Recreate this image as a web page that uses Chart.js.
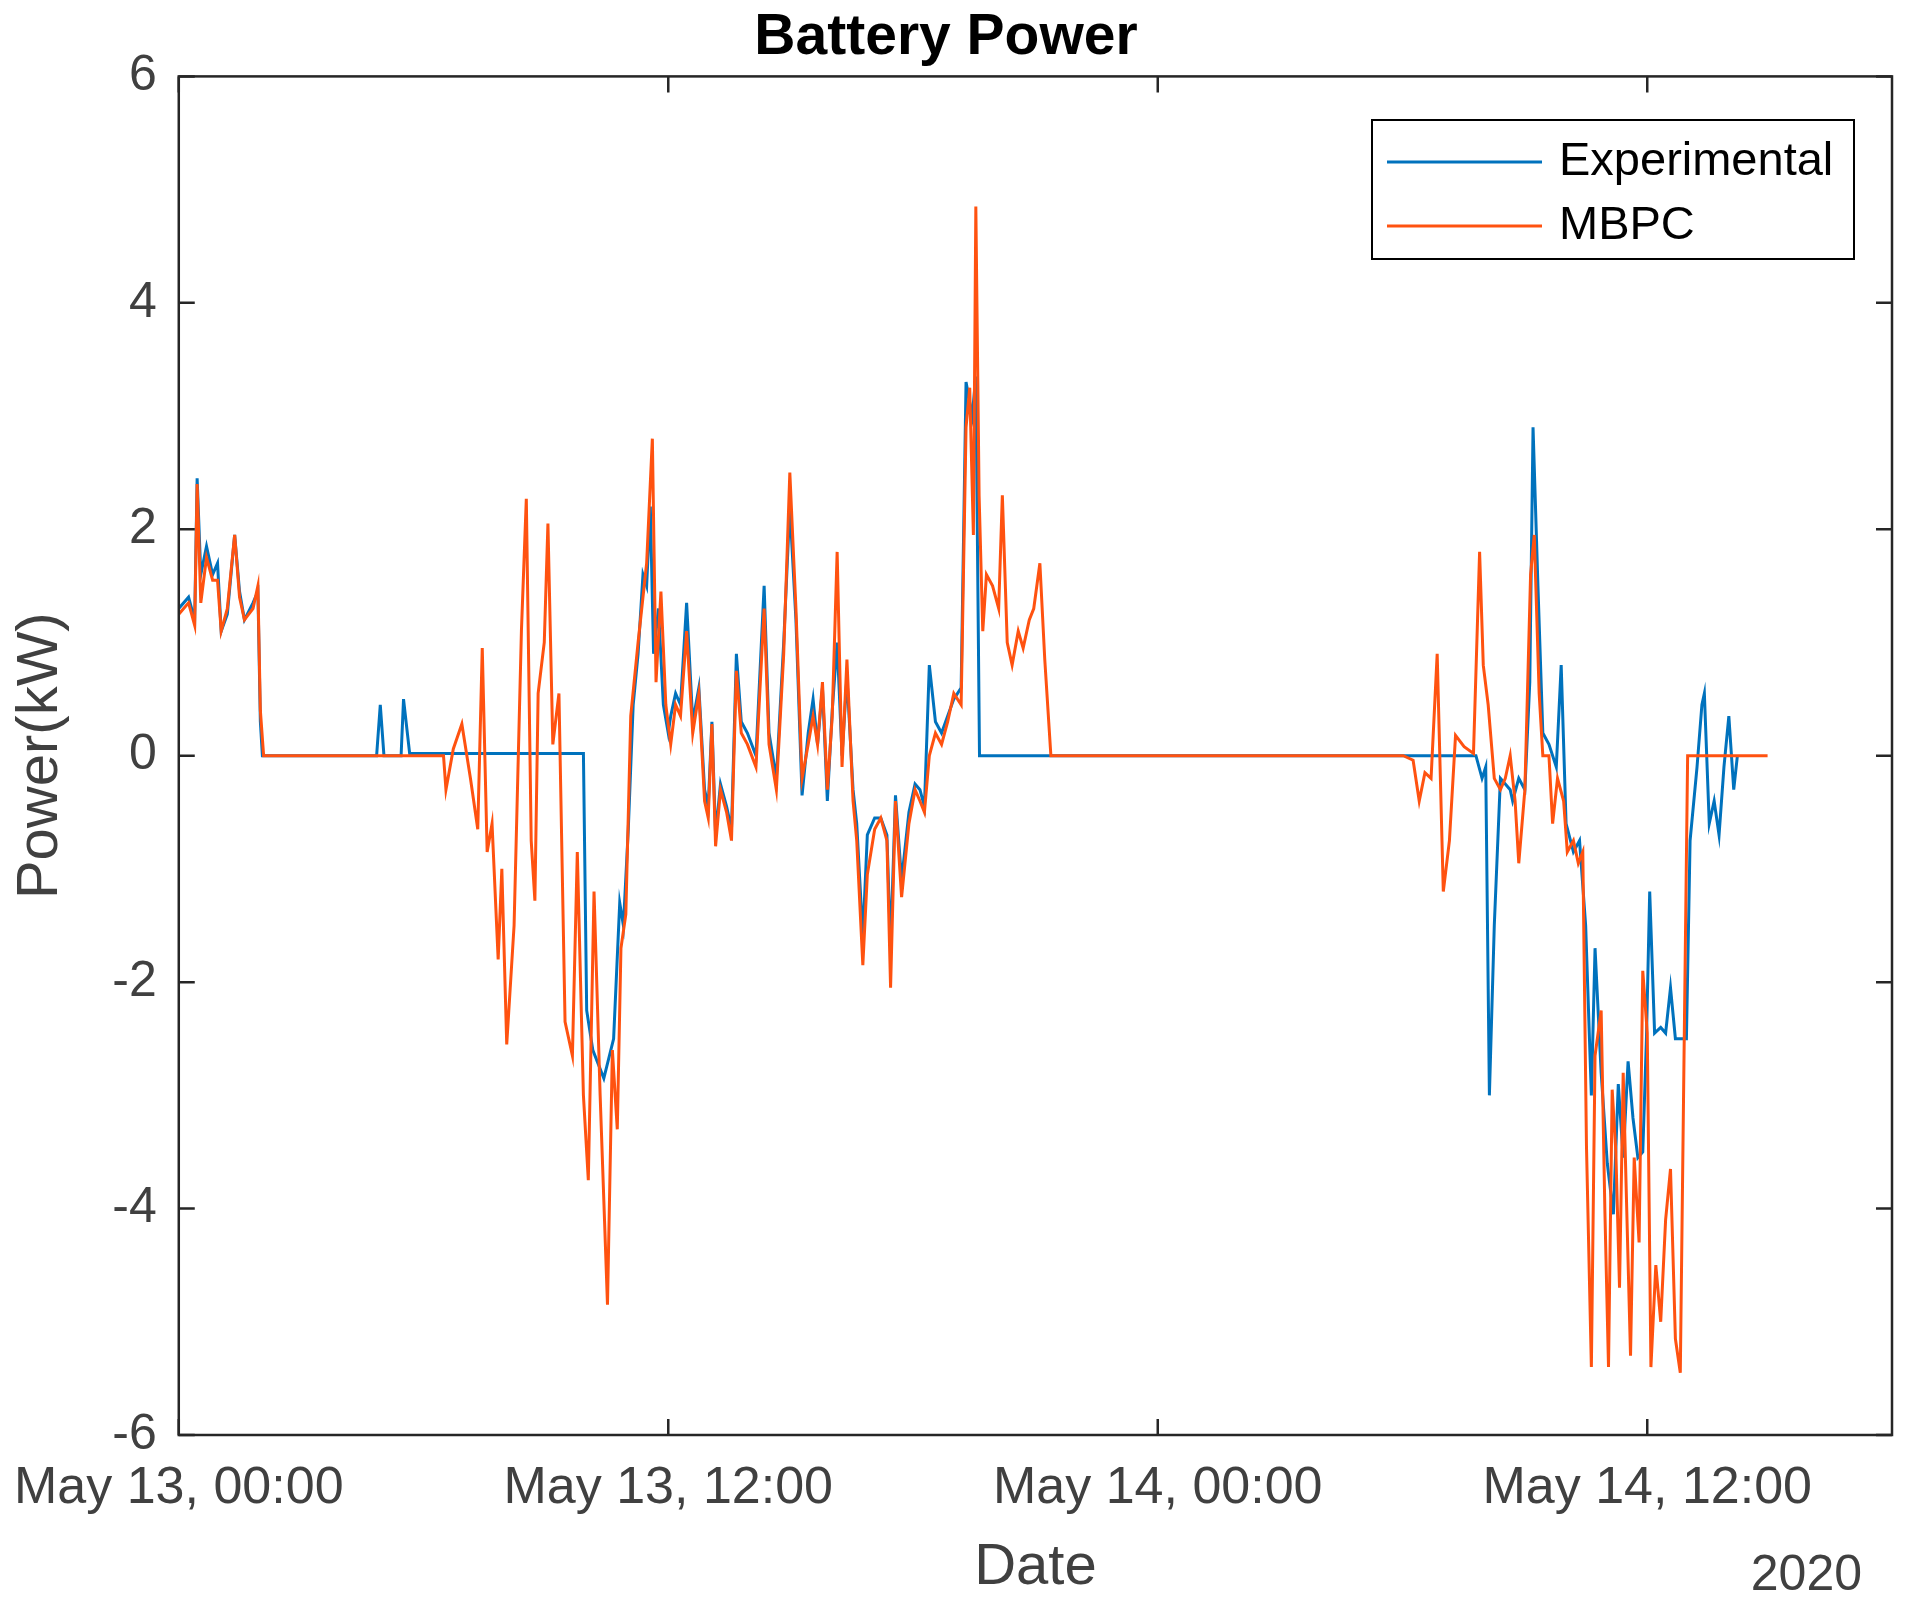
<!DOCTYPE html>
<html><head><meta charset="utf-8">
<script src="https://cdn.jsdelivr.net/npm/chart.js@4"></script>
<style>html,body{margin:0;padding:0;background:#fff}#w{width:1909px;height:1609px}</style>
</head><body><div id="w"><canvas id="c"></canvas></div>
<script>
const xTickHours=[0,12,24,36];
const xTickLabels=['May 13, 00:00','May 13, 12:00','May 14, 00:00','May 14, 12:00'];
const yTicks=[-6,-4,-2,0,2,4,6];
const seriesNames=['Experimental','MBPC'];
const expHours=[0,0.24,0.39,0.45,0.54,0.68,0.83,0.95,1.04,1.19,1.37,1.49,1.61,1.82,1.94,2.0,2.05,4.85,4.94,5.03,5.45,5.51,5.66,9.92,10.0,10.15,10.42,10.66,10.81,10.9,11.02,11.14,11.26,11.38,11.47,11.56,11.64,11.76,11.88,12.0,12.06,12.18,12.3,12.45,12.6,12.75,12.89,12.98,13.07,13.16,13.28,13.43,13.55,13.67,13.79,13.94,14.15,14.35,14.47,14.65,14.83,14.98,15.13,15.28,15.43,15.55,15.66,15.78,15.9,16.02,16.14,16.26,16.38,16.53,16.62,16.77,16.88,17.06,17.21,17.36,17.45,17.57,17.72,17.9,18.05,18.17,18.28,18.4,18.55,18.7,18.85,19.0,19.18,19.3,19.45,19.54,19.63,21.4,30.02,31.8,31.95,32.04,32.13,32.25,32.4,32.64,32.7,32.85,33.0,33.12,33.2,33.32,33.44,33.59,33.77,33.89,34.01,34.19,34.34,34.49,34.63,34.72,34.87,35.02,35.17,35.29,35.41,35.53,35.65,35.77,35.89,35.98,36.06,36.18,36.33,36.45,36.57,36.69,36.96,37.05,37.22,37.34,37.4,37.52,37.64,37.76,37.88,38.0,38.12,38.21];
const expPower=[1.3,1.4,1.2,2.45,1.6,1.85,1.6,1.7,1.1,1.25,1.95,1.45,1.2,1.35,1.45,0.3,0,0,0.45,0,0,0.5,0.02,0.02,-2.25,-2.6,-2.85,-2.5,-1.3,-1.5,-0.65,0.45,0.9,1.6,1.5,2.2,0.9,1.3,0.45,0.2,0.35,0.55,0.45,1.35,0.3,0.6,-0.3,-0.45,0.3,-0.7,-0.25,-0.45,-0.65,0.9,0.3,0.2,0.0,1.5,0.2,-0.2,1.0,2.2,1.2,-0.35,0.2,0.5,0.1,0.6,-0.4,0.4,1.0,0.0,0.7,-0.3,-0.6,-1.6,-0.7,-0.55,-0.55,-0.7,-1.7,-0.35,-1.1,-0.5,-0.25,-0.3,-0.45,0.8,0.3,0.2,0.35,0.5,0.6,3.3,3.0,3.35,0.0,0,0,0,-0.2,-0.1,-3.0,-1.5,-0.2,-0.3,-0.4,-0.2,-0.3,0.65,2.9,1.5,0.2,0.1,-0.1,0.8,-0.6,-0.85,-0.75,-1.5,-3.0,-1.7,-2.8,-3.6,-4.05,-2.9,-3.55,-2.7,-3.2,-3.55,-3.5,-2.5,-1.2,-2.45,-2.4,-2.45,-2.05,-2.5,-2.5,-0.75,-0.1,0.45,0.55,-0.6,-0.4,-0.7,-0.1,0.35,-0.3,0];
const mbpcHours=[0,0.24,0.39,0.45,0.54,0.68,0.83,0.95,1.04,1.19,1.37,1.49,1.61,1.82,1.94,2.0,2.08,6.49,6.55,6.73,6.94,7.15,7.33,7.44,7.56,7.68,7.83,7.92,8.04,8.22,8.4,8.52,8.64,8.73,8.81,8.96,9.05,9.17,9.32,9.47,9.65,9.77,9.92,10.04,10.18,10.33,10.51,10.63,10.75,10.84,10.96,11.08,11.26,11.47,11.61,11.7,11.82,11.94,12.06,12.18,12.3,12.45,12.6,12.75,12.89,12.98,13.07,13.16,13.28,13.43,13.55,13.67,13.79,13.94,14.15,14.35,14.47,14.65,14.83,14.98,15.13,15.28,15.43,15.55,15.66,15.78,15.9,16.02,16.14,16.26,16.38,16.53,16.62,16.77,16.88,17.06,17.21,17.36,17.45,17.57,17.72,17.9,18.05,18.17,18.28,18.4,18.55,18.7,18.85,19.0,19.18,19.3,19.39,19.48,19.54,19.62,19.71,19.8,19.95,20.1,20.19,20.31,20.43,20.58,20.7,20.85,20.96,21.11,21.23,21.38,30.02,30.26,30.41,30.55,30.7,30.85,31.0,31.15,31.3,31.51,31.74,31.89,31.98,32.1,32.25,32.4,32.52,32.64,32.76,32.85,33.0,33.14,33.23,33.35,33.44,33.59,33.68,33.8,33.95,34.04,34.19,34.31,34.42,34.51,34.63,34.72,34.87,34.96,35.05,35.14,35.23,35.32,35.41,35.5,35.59,35.68,35.8,35.89,36.0,36.09,36.21,36.33,36.45,36.57,36.69,36.81,36.9,36.99,38.95];
const mbpcPower=[1.25,1.35,1.15,2.4,1.35,1.75,1.55,1.55,1.1,1.3,1.95,1.4,1.2,1.3,1.5,0.4,0,0,-0.3,0.06,0.28,-0.2,-0.65,0.95,-0.85,-0.6,-1.8,-1.0,-2.55,-1.5,1.1,2.27,-0.75,-1.28,0.55,1.0,2.05,0.1,0.55,-2.35,-2.65,-0.85,-3.0,-3.75,-1.2,-3.0,-4.85,-2.6,-3.3,-1.7,-1.4,0.35,1.0,1.7,2.8,0.65,1.45,0.45,0.1,0.45,0.35,1.1,0.2,0.55,-0.4,-0.55,0.28,-0.8,-0.3,-0.5,-0.75,0.75,0.2,0.1,-0.1,1.3,0.1,-0.3,0.9,2.5,1.3,-0.2,0.1,0.35,0.1,0.65,-0.3,0.35,1.8,-0.1,0.85,-0.4,-0.75,-1.85,-1.05,-0.65,-0.55,-0.75,-2.05,-0.4,-1.25,-0.6,-0.3,-0.4,-0.5,0.0,0.2,0.1,0.3,0.55,0.45,2.9,3.25,1.95,4.85,2.3,1.1,1.6,1.5,1.3,2.3,1.0,0.8,1.1,0.95,1.2,1.3,1.7,0.85,0,0,-0.04,-0.4,-0.15,-0.2,0.9,-1.2,-0.75,0.18,0.08,0.02,1.8,0.8,0.45,-0.2,-0.3,-0.2,0.0,-0.4,-0.95,-0.3,1.6,1.95,0.55,0.0,0.0,-0.6,-0.2,-0.4,-0.85,-0.75,-0.95,-0.85,-3.45,-5.4,-2.65,-2.25,-4.0,-5.4,-2.95,-3.5,-4.7,-2.8,-4.05,-5.3,-3.55,-4.3,-1.9,-2.45,-5.4,-4.5,-5.0,-4.1,-3.65,-5.15,-5.45,-2.7,0,0];
const colors=['#0072BD','#FF5210'];
const TXT='#404040';
const F='Arial, "Liberation Sans"';
const toXY=(h,p)=>h.map((x,i)=>({x,y:p[i]}));

const frame={id:'frame',afterDraw(ch){
 const {ctx,chartArea:a,scales:{x,y}}=ch;
 ctx.save();ctx.strokeStyle='#262626';ctx.lineWidth=2.5;
 ctx.strokeRect(a.left,a.top,a.right-a.left,a.bottom-a.top);
 const L=16;ctx.beginPath();
 xTickHours.forEach(h=>{const px=x.getPixelForValue(h);ctx.moveTo(px,a.bottom);ctx.lineTo(px,a.bottom-L);ctx.moveTo(px,a.top);ctx.lineTo(px,a.top+L);});
 yTicks.forEach(v=>{const py=y.getPixelForValue(v);ctx.moveTo(a.left,py);ctx.lineTo(a.left+L,py);ctx.moveTo(a.right,py);ctx.lineTo(a.right-L,py);});
 ctx.stroke();
 const bx=1372,by=120,bw=482,bh=139;
 ctx.fillStyle='#fff';ctx.fillRect(bx,by,bw,bh);ctx.strokeStyle='#000';ctx.lineWidth=2;ctx.strokeRect(bx,by,bw,bh);
 ctx.font='47px '+F;ctx.textBaseline='middle';
 seriesNames.forEach((n,i)=>{const yy=by+42+i*64;ctx.strokeStyle=colors[i];ctx.lineWidth=3;ctx.beginPath();ctx.moveTo(bx+15,yy);ctx.lineTo(bx+170,yy);ctx.stroke();ctx.fillStyle='#000';ctx.fillText(n,bx+187,yy);});
 ctx.fillStyle=TXT;ctx.font='50px '+F;ctx.textAlign='right';ctx.textBaseline='alphabetic';
 ctx.fillText('2020',a.right-30,1590);
 ctx.restore();}};

new Chart(document.getElementById('c'),{type:'line',
 data:{datasets:[
  {label:seriesNames[0],data:toXY(expHours,expPower),borderColor:colors[0],borderWidth:3,pointRadius:0,tension:0,order:2},
  {label:seriesNames[1],data:toXY(mbpcHours,mbpcPower),borderColor:colors[1],borderWidth:3,pointRadius:0,tension:0,order:1}]},
 options:{responsive:true,maintainAspectRatio:false,animation:false,devicePixelRatio:1,
  layout:{autoPadding:false,padding:{top:4,right:17,left:0,bottom:0}},
  plugins:{legend:{display:false},tooltip:{enabled:false},
   title:{display:true,text:'Battery Power',color:'#000',font:{family:F,size:57,weight:'bold'},padding:{top:0,bottom:4}}},
  scales:{
   x:{type:'linear',min:0,max:42,afterBuildTicks(s){s.ticks=xTickHours.map(v=>({value:v}));},
    ticks:{color:TXT,font:{family:F,size:52},maxRotation:0,padding:14,callback:(v)=>xTickLabels[xTickHours.indexOf(v)]},
    grid:{display:false},border:{display:false},
    title:{display:true,text:'Date',color:TXT,font:{family:F,size:58},padding:{top:0,bottom:6}}},
   y:{min:-6,max:6,afterBuildTicks(s){s.ticks=yTicks.map(v=>({value:v}));},
    afterFit(s){s.width=173;},
    ticks:{color:TXT,font:{family:F,size:50},padding:14},
    grid:{display:false},border:{display:false},
    title:{display:true,text:'Power(kW)',color:TXT,font:{family:F,size:58},padding:0}}}},
 plugins:[frame]});
</script></body></html>
